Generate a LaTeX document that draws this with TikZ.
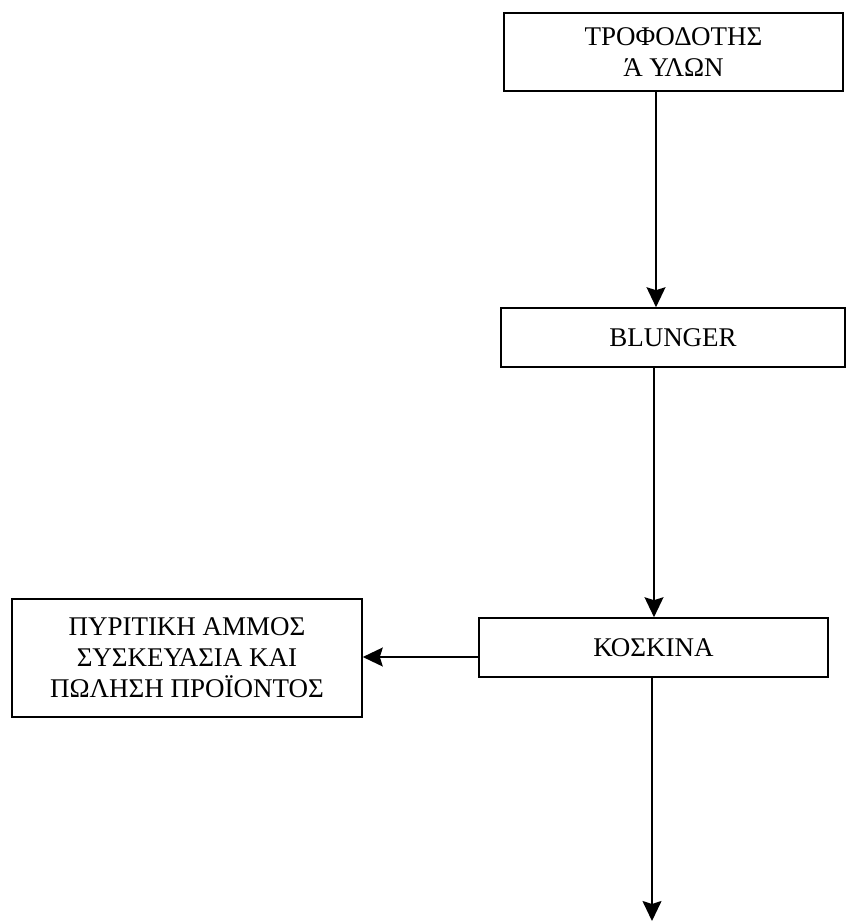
\documentclass[tikz,border=0pt]{standalone}
\usepackage{fontspec}
\setmainfont{Liberation Serif}
\usetikzlibrary{arrows.meta}
\begin{document}
\begin{tikzpicture}[x=1pt,y=-1pt,
  box/.style={draw,line width=1.6pt,align=center,inner sep=0pt,
    font=\fontsize{27}{31}\selectfont},
  arr/.style={line width=1.6pt,-{Stealth[length=20pt,width=19pt,inset=3pt]}}]
\useasboundingbox (0,0) rectangle (847,922);
\node[box,minimum width=339pt,minimum height=78pt] (top) at (673.5,52) {ΤΡΟΦΟΔΟΤΗΣ\\Ά ΥΛΩΝ};
\node[box,minimum width=344pt,minimum height=59pt] (bl) at (673,337.5) {BLUNGER};
\node[box,minimum width=349pt,minimum height=59pt] (kos) at (653.5,647.5) {ΚΟΣΚΙΝΑ};
\node[box,minimum width=350pt,minimum height=118pt] (left) at (187,658) {ΠΥΡΙΤΙΚΗ ΑΜΜΟΣ\\ΣΥΣΚΕΥΑΣΙΑ ΚΑΙ\\ΠΩΛΗΣΗ ΠΡΟΪΟΝΤΟΣ};
\coordinate (end) at (652,921);
\draw[arr] (top.south -| 656,0) -- (bl.north -| 656,0);
\draw[arr] (bl.south -| 654,0) -- (kos.north -| 654,0);
\draw[arr] (kos.west |- 0,657) -- (left.east |- 0,657);
\draw[arr] (kos.south -| end) -- (end);
\end{tikzpicture}
\end{document}
